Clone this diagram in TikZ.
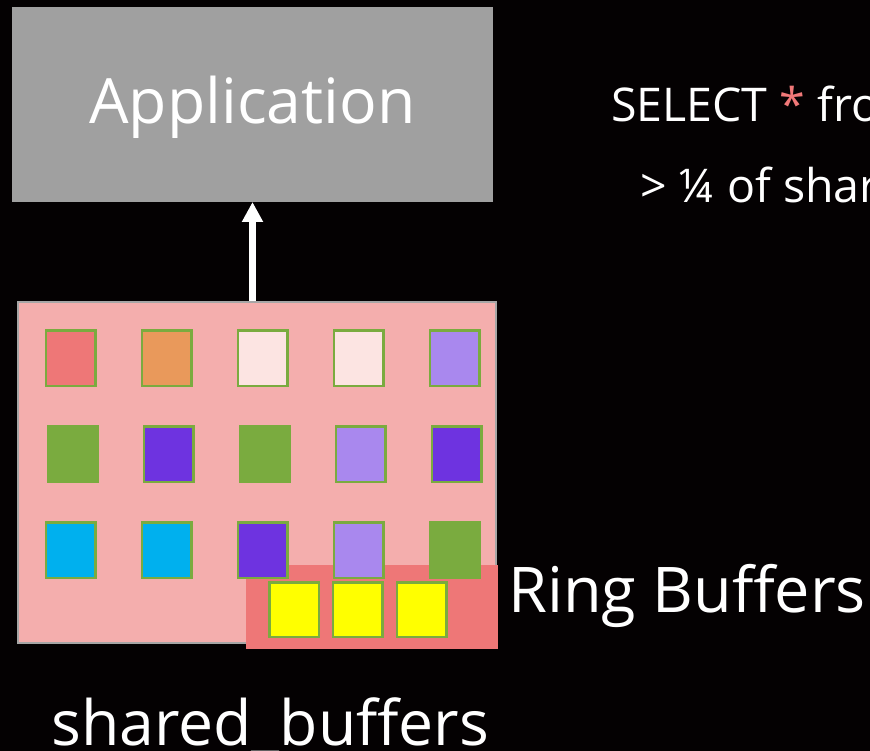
\documentclass[tikz,border=0pt]{standalone}
\usepackage{fontspec}
\setmainfont{Open Sans}
\usetikzlibrary{arrows.meta}
\definecolor{bgc}{HTML}{040102}
\definecolor{appgray}{HTML}{A0A0A0}
\definecolor{boxpink}{HTML}{F4AEAD}
\definecolor{boxedge}{HTML}{A6A6A6}
\definecolor{ringred}{HTML}{EE7777}
\definecolor{sqedge}{HTML}{7AAB3F}
\definecolor{cRed}{HTML}{EE7777}
\definecolor{cOrange}{HTML}{E9995B}
\definecolor{cLight}{HTML}{FCE4E2}
\definecolor{cLav}{HTML}{A988EE}
\definecolor{cGreen}{HTML}{7AAB3F}
\definecolor{cPurple}{HTML}{6E33E0}
\definecolor{cCyan}{HTML}{00B0EE}
\definecolor{cYellow}{HTML}{FFFF00}
\definecolor{starc}{HTML}{F07878}
\tikzset{
  page/.style={x=1pt,y=-1pt},
  sq/.style={draw=sqedge, line width=2.5pt, minimum width=49.5pt, minimum height=55.5pt, inner sep=0pt, outer sep=0pt},
  ysq/.style={sq, fill=cYellow, minimum height=54.5pt},
  lbl/.style={text=white, inner sep=0pt, anchor=base west},
}
\begin{document}
\begin{tikzpicture}[page]
\useasboundingbox (0,0) rectangle (870,751);
\clip (0,0) rectangle (870,751);
\fill[bgc] (0,0) rectangle (870,751);
% Application
\node[fill=appgray, minimum width=481pt, minimum height=195pt, inner sep=0pt, outer sep=0pt] (app) at (252.5,104.5) {};
\node[lbl, anchor=base, font=\fontsize{62.5}{70}\selectfont] (apptxt) at (252.5,124) {Application};
% shared buffers box
\node[fill=boxpink, draw=boxedge, line width=2pt, minimum width=478pt, minimum height=341pt, inner sep=0pt, outer sep=0pt] (shared) at (257,472.5) {};
% ring buffer area
\node[fill=ringred, minimum width=252pt, minimum height=84pt, inner sep=0pt, outer sep=0pt] (ring) at (372,607) {};
% squares row 1
\node[sq, fill=cRed]    (s11) at (70.5,358) {};
\node[sq, fill=cOrange] (s12) at (166.5,358) {};
\node[sq, fill=cLight]  (s13) at (262.5,358) {};
\node[sq, fill=cLight]  (s14) at (358.5,358) {};
\node[sq, fill=cLav]    (s15) at (454.5,358) {};
% row 2
\node[sq, fill=cGreen]  (s21) at (72.5,454) {};
\node[sq, fill=cPurple] (s22) at (168.5,454) {};
\node[sq, fill=cGreen]  (s23) at (264.5,454) {};
\node[sq, fill=cLav]    (s24) at (360.5,454) {};
\node[sq, fill=cPurple] (s25) at (456.5,454) {};
% row 3
\node[sq, fill=cCyan]   (s31) at (70.5,550) {};
\node[sq, fill=cCyan]   (s32) at (166.5,550) {};
\node[sq, fill=cPurple] (s33) at (262.5,550) {};
\node[sq, fill=cLav]    (s34) at (358.5,550) {};
\node[sq, fill=cGreen]  (s35) at (454.5,550) {};
% yellow ring buffer slots
\node[ysq] (y1) at (294,609.7) {};
\node[ysq] (y2) at (357.5,609.7) {};
\node[ysq] (y3) at (421.7,609.7) {};
% arrow
\draw[white, line width=6.5pt, -{Triangle[width=20pt,length=20pt]}] (app.south |- shared.north) ++(0,-1) coordinate (astart) (astart) -- (app.south);
% labels
\node[lbl, font=\fontsize{63}{70}\selectfont] (ringtxt) at (508,612) {Ring Buffers};
\node[lbl, font=\fontsize{62.5}{70}\selectfont] (sharedtxt) at (51,745) {shared\_buffers};
\node[lbl, font=\fontsize{46.5}{56}\selectfont] (sel) at (611,122) {SELECT {\color{starc}*} from};
\node[lbl, font=\fontsize{46.5}{56}\selectfont] (quarter) at (640,203) {> ¼ of shared\_buffers};
\end{tikzpicture}
\end{document}
